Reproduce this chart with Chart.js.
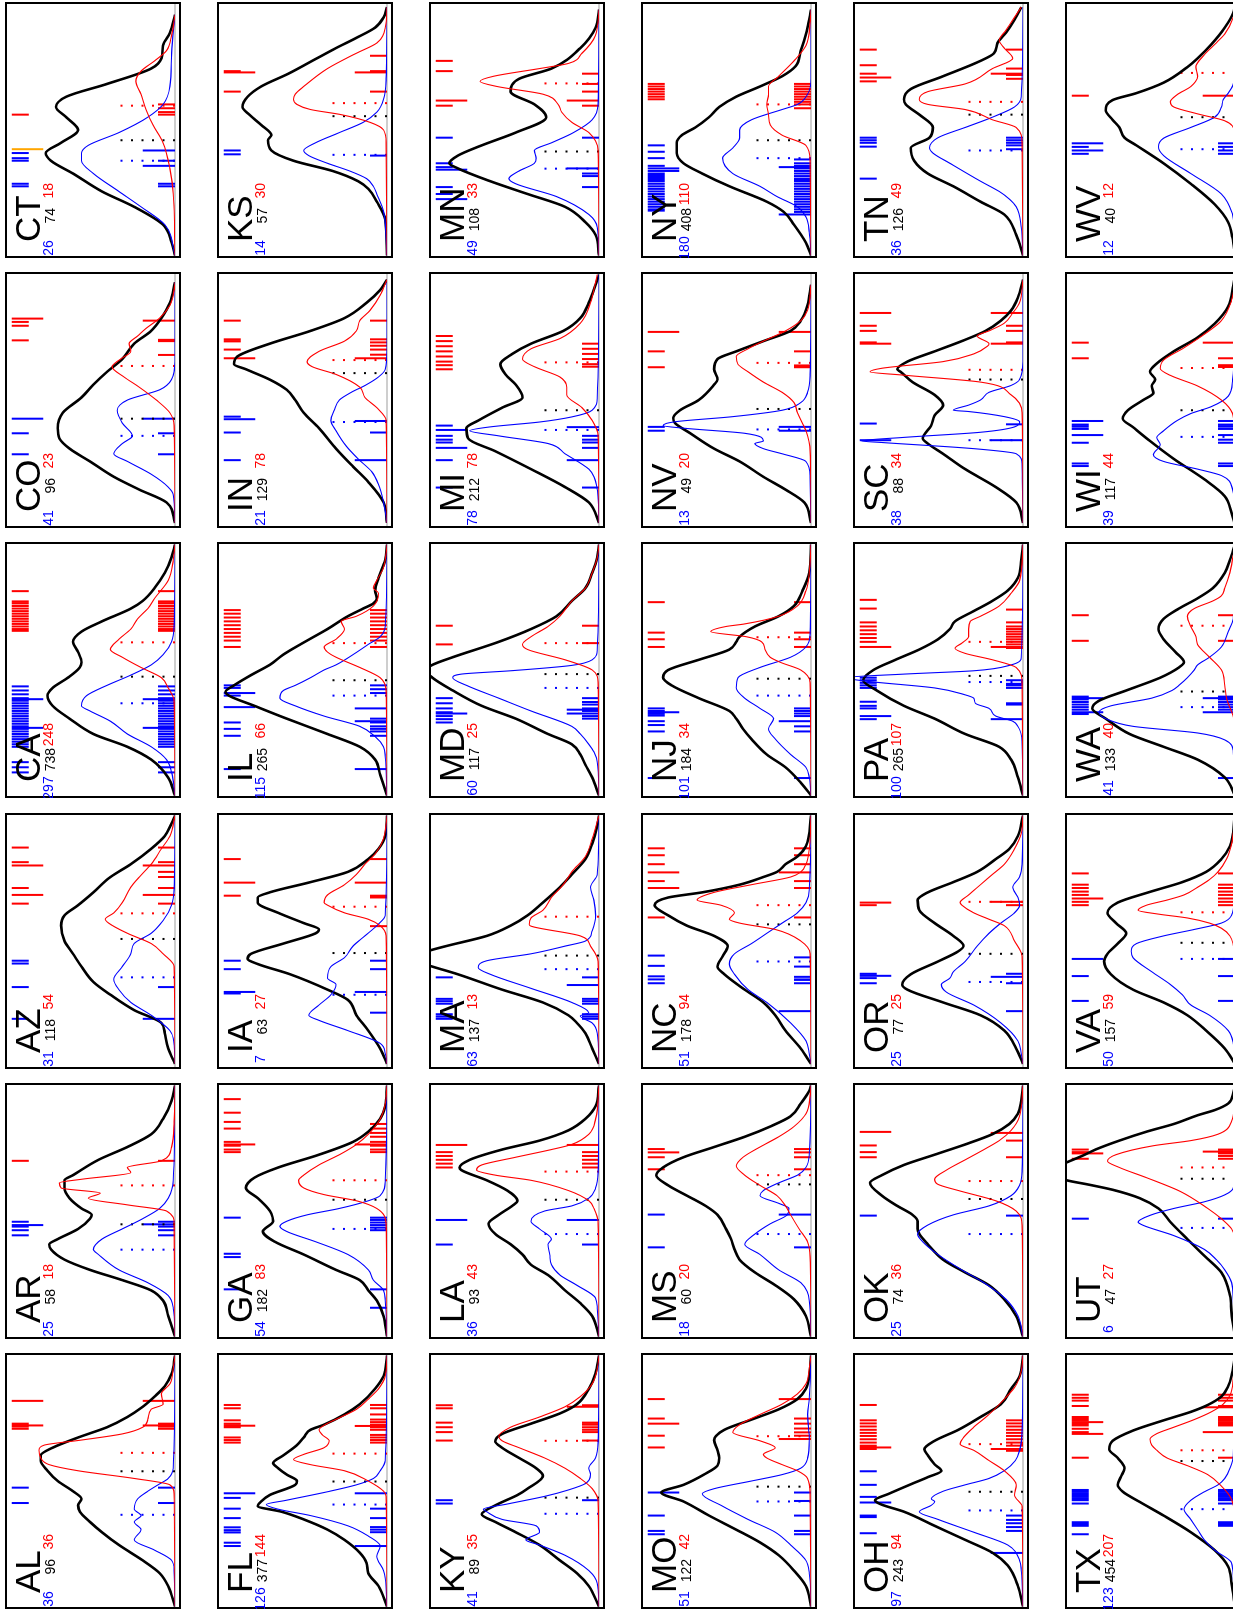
<!DOCTYPE html>
<html>
<head>
<meta charset="utf-8">
<script src="https://cdn.jsdelivr.net/npm/chart.js@4.4.1/dist/chart.umd.min.js"></script>
<style>
html, body { margin: 0; padding: 0; background: #fff; }
body { width: 1233px; height: 1609px; overflow: hidden; position: relative; }
.panel { position: absolute; width: 176px; height: 256px; }
.turn { position: absolute; left: 0; top: 0; width: 256px; height: 176px;
        transform-origin: 0 0; transform: translate(0, 256px) rotate(-90deg); }
.turn canvas { display: block; }
</style>
</head>
<body>
<script>
// states, alphabetical; panels are filled column by column (bottom to top)
const states = ['AL','AR','AZ','CA','CO','CT','FL','GA','IA','IL','IN','KS','KY','LA','MA','MD','MI','MN',
                'MO','MS','NC','NJ','NV','NY','OH','OK','OR','PA','SC','TN','TX','UT','VA','WA','WI','WV'];

const countBlue = [36,25,31,297,41,26,126,54,7,115,21,14,41,36,63,60,78,49,51,18,51,101,13,180,97,25,25,100,38,36,123,6,50,41,39,12];
const countAll  = [96,58,118,738,96,74,377,182,63,265,129,57,89,93,137,117,212,108,122,60,178,184,49,408,243,74,77,265,88,126,454,47,157,133,117,40];
const countRed  = [36,18,54,248,23,18,144,83,27,66,78,30,35,43,13,25,78,33,42,20,94,34,20,110,94,36,25,107,34,49,207,27,59,40,44,12];

// density curves, flat [x, y, x, y, ...]; x on a 0-100 value axis, y on a 0-100 density axis
const densityAll = [
  [1,0, 9,4, 14,9, 19,19, 25,33, 30,43, 34,50, 38,56, 40.5,57, 43,55, 46,60, 50,69, 54,75, 58,79, 60,79, 63,72, 67,57, 71,40, 75,28, 79,19, 83,12, 87,6, 92,2, 99,0],
  [1,0, 9,4, 15,7, 19,14, 23,31, 27,50, 31,65, 35,73, 37,74, 39,69, 43,57, 47,50, 48.5,49, 51,55, 55,62, 59,65, 62,65, 64,60, 70,45, 75,28, 80,14, 86,7, 93,2, 99,0],
  [2,0, 8,4, 14,6, 18,8, 23,24, 29,38, 34,48, 40,55, 45,60, 50,65, 56,67, 60,65, 64,57, 69,48, 75,38, 80,26, 86,14, 91,6, 96,2, 99,0],
  [1,0, 8,4, 15,14, 20,28, 25,48, 31,62, 36,72, 40,75, 43,72, 47,63, 51,56, 53,55, 57,57, 61,60, 65,55, 69,43, 74,26, 77,19, 82,12, 88,6, 94,2, 99,0],
  [2,0, 10,5, 15,21, 20,36, 26,50, 31,62, 35,68, 39,69, 45,66, 51,55, 56,48, 61,40, 66,31, 72,24, 77,14, 82,8, 88,3, 96,0],
  [1,0, 6,2, 13,7, 20,24, 26,43, 33,60, 38,73, 41,76, 45,67, 50,57, 55,64, 59,70, 63,64, 68,40, 74,14, 78,8, 83,7, 88,3, 95,0],
  [1,0, 9,5, 14,11, 18,12, 22,16, 27,25, 31,35, 35,49, 38,62, 40.2,76, 42,74, 44.5,69, 48.5,54, 50,53, 52.5,59, 55,64, 57,67, 60,61, 64,53, 67,49, 70,45, 72,37, 76,25, 80,16, 86,7, 91,2, 99,0],
  [1,0, 9,2, 15,6, 19,11, 23,16, 27,30, 33,49, 38,66, 42,73, 46,67, 49,68, 51,70, 55,76, 59,83, 63,78, 67,64, 72,40, 77,20, 81,11, 86,4, 91,1, 99,0],
  [2,0, 8,4, 15,11, 21,18, 27,23, 31,35, 37,57, 41,76, 43,82, 45,80, 49,61, 53,42, 54.5,40, 57,49, 61,64, 65,76, 67,76, 69,69, 73,45, 77,23, 82,11, 86,5, 91,1, 99,0],
  [1,0, 9,4, 15,7, 20,16, 25,35, 31,59, 36,78, 40,93, 41.5,95, 44,90, 48,80, 52,69, 56,61, 60,51, 66,35, 71,23, 74,14, 76,8, 78,6, 81,7, 86,5, 93,1, 99,0],
  [2,0, 10,2, 18,11, 24,20, 31,30, 39,40, 45,49, 50,54, 54,59, 58,69, 62,83, 64,90, 67,88, 72,69, 77,45, 82,25, 88,12, 93,4, 97,0],
  [1,0, 15,1, 22,6, 27,11, 30,17, 34,32, 38,55, 42,68, 46,70, 48,68, 52,74, 56,81, 59,85, 63,82, 67,74, 72,58, 77,44, 82,30, 86,18, 90,7, 94,2, 98,0],
  [1,0, 9,6, 14,13, 19,23, 25,35, 30,49, 34,61, 37,69, 40.5,61, 44.5,48, 47,42, 52,33, 55,37, 59,47, 63,57, 65.5,61, 68.4,57, 72.4,40, 76.4,23, 80,13, 86,6, 92,2, 99,0],
  [1,0, 9,4, 14,11, 19,20, 25,30, 29,40, 33,45, 37,52, 41,61, 45,65, 48.5,59, 52,51, 54,48, 58,54, 62,66, 66,81, 67,82, 70,76, 74,57, 77.5,35, 81.5,18, 86,8, 91,2, 99,0],
  [2,0, 8,4, 14,8, 18,13, 21,18, 26,33, 31,57, 37,83, 40,98, 43,112, 46,101, 48,90, 52,66, 56,52, 60,42, 65,33, 71,23, 76,16, 82,8, 88,4, 95,1, 99,0],
  [1,0, 8,4, 13,8, 17,11, 21,16, 25,30, 31,49, 36,69, 42,86, 47,98, 50,102, 52,98, 55,86, 61,59, 66,40, 71,25, 77,16, 82,8, 88,4, 94,1, 99,0],
  [2,0, 10,6, 16,20, 23,40, 30,61, 35,77, 39,78, 42,71, 47,57, 51,45, 56,49, 60,55, 64,58, 68,51, 72,40, 77,21, 82,11, 88,6, 95,2, 99,0],
  [1,0, 9,2, 14,8, 20,20, 25,42, 30,64, 35,83, 37,88, 40,83, 44,69, 49,49, 55,31, 60,38, 65,52, 70,47, 74,28, 82,11, 90,2, 97,0],
  [1,0, 9,3, 15,10, 21,19, 26,30, 31,44, 36.5,60, 42,75, 45.5,88, 48.5,75, 52.5,63, 56,55, 59,54, 62,55, 66,57, 70,51, 74,35, 78,19, 82,8, 86,3, 91,1, 99,0],
  [1,0, 9,3, 15.5,10, 21,21, 26,33, 31,42, 35,45, 39,47, 43,50, 48.5,55, 52,62, 56,73, 60,84, 64,91, 67,87, 71,75, 75,57, 79,39, 83,24, 87,12, 92,6, 97,1, 99,0],
  [2,0, 8,6, 15,15, 21,21, 26,28, 31,39, 37,51, 40,55, 44,52, 48,49, 52,57, 56,73, 60,84, 64,92, 67,84, 69,64, 72,42, 75,28, 77,20, 80,15, 83,8, 87,3, 99,0],
  [1,0, 6,6, 12,15, 17,26, 23,35, 27,40, 31,44, 34,48, 39,66, 44,82, 47,87, 50,84, 54,66, 58,48, 61,44, 63,42, 67,33, 71,19, 75,10, 81,5, 88,1, 99,0],
  [2,0, 10,4, 15,15, 20,28, 26,42, 31,57, 37,71, 41,80, 43,81, 46,77, 50,66, 56,57, 58,55, 62,57, 66,55, 69,44, 73,28, 77,12, 81,6, 87,2, 95,0],
  [1,0, 6,3, 13,10, 18,16, 22,26, 28,48, 33,64, 37,75, 41,79, 45,79, 48,76, 51,68, 55,60, 59,54, 63,44, 67,30, 71,17, 75,9, 81,6, 90,2, 97,0],
  [1,0, 9,3, 17,9, 22,18, 27,34, 32.5,52, 38,70, 41,84, 42.5,87, 45,79, 49,65, 51.5,56, 54,48, 56.5,52, 60,56, 62.4,58, 65.7,52, 70,38, 75,25, 80,13, 86,7, 91,2, 99,0],
  [1,0, 9,4, 15.5,11, 21,20, 26,34, 31,47, 37,56, 41,61, 43,62, 46,62, 48.5,65, 52,74, 56,83, 61,90, 64,83, 68,70, 72,52, 76,34, 80,18, 84,8, 88,3, 93,1, 99,0],
  [2,0, 8,4, 15,11, 21,25, 26,47, 31,68, 33,71, 37,66, 42,50, 46,38, 48,35, 52,41, 57,52, 62,61, 66,62, 69,56, 73,41, 77,27, 82,16, 86,8, 91,3, 99,0],
  [1,0, 8,3, 15,7, 20,14, 25,34, 31,52, 36,70, 42,86, 46,94, 50,88, 54,75, 58,61, 62,50, 66,43, 69,40, 73,29, 77,18, 81,9, 86,3, 93,1, 99,0],
  [2,0, 10,4, 16,16, 23,34, 29,47, 33,56, 35,59, 40,54, 44,52, 48,47, 52,52, 57,65, 61,72, 62,74, 65,68, 69,52, 73,36, 77,22, 81,13, 85,7, 90,3, 97,0],
  [1,0, 9,4, 17,11, 22,25, 28,41, 33,56, 38,64, 43,66, 47,55, 51,53, 56,61, 60,69, 62,70, 66,66, 71,47, 77,25, 80,17, 84,15, 88,10, 93,5, 98,1],
  [1,0, 10,2, 16.6,4, 23,12, 30,26, 36.5,42, 41.8,56, 45.8,66, 48.5,69, 51.8,67, 55,65, 59,69, 62.4,74, 65.7,72, 69.7,60, 73.7,42, 77,26, 79.7,16, 83,8, 87,4, 91,2, 99,0],
  [1,0, 10,2, 17,3, 26,8, 32.5,18, 39,28, 45.7,38, 51,45, 55,56, 58.3,72, 60.3,86, 62,99, 65.5,112, 69,99, 71.5,90, 74,82, 77.5,68, 81,52, 84,36, 87.4,22, 89.4,12, 92,4, 96,1, 99,0],
  [2,0, 8,6, 15,17, 21,28, 26,42, 31,60, 37,73, 42,77, 45,75, 49,69, 53,64, 57,70, 61,75, 65,69, 69,51, 73,31, 77,17, 82,8, 87,3, 99,0],
  [1,0, 8,6, 15,22, 20,42, 25,62, 31,76, 35,84, 38,80, 42,64, 47,44, 51,33, 53,30, 57,35, 62,42, 66,45, 70,42, 74,33, 78,22, 82,13, 88,6, 93,3, 99,0],
  [1,0, 6,2, 12.4,6, 19,18, 27,36, 34,50, 39.4,60, 42.7,66, 46,63, 50,54, 52.8,48, 55.5,49, 58,47, 61,50, 64.3,46, 69,36, 74.4,22, 79.8,12, 86.5,4, 94.6,1, 99,0],
  [1,0, 8,1.5, 14,4, 21,12, 29,26, 37,42, 44,58, 47,65, 51,68, 54,72, 57.7,76, 61.7,72, 64.4,58, 68.5,42, 74.6,28, 78,22, 83.4,14, 90,6, 95.7,1, 99,0]
];

const densityBlue = [
  [1,0, 15,0.5, 19,2, 23,12, 27,24, 31,20, 34,24, 36.5,20, 39,24, 43,22, 46,16, 48.5,10, 51,4, 55,1, 99,0],
  [1,0, 12,1, 17,4, 22,16, 27,33, 33,45, 35,48, 39,43, 43,31, 47,19, 51,9, 55,4, 62,1, 99,0],
  [2,0, 12,1, 15,3, 21,14, 26,26, 31,33, 35,36, 40,31, 45,26, 49,24, 53,14, 58,7, 64,2, 70,0.5, 99,0],
  [1,0, 10,2, 15,5, 20,14, 25,28, 30,38, 34,50, 36,55, 40,52, 44,40, 48,26, 52,14, 56,7, 61,2, 67,0.5, 99,0],
  [2,0, 13,1, 16,4, 21,14, 26,28, 29,36, 33,31, 36,25, 41,31, 46,34, 50,28, 54,9, 58,2, 65,0, 96,0],
  [1,0, 13,6, 20,20, 26,33, 33,48, 38,55, 41,55, 44,51, 49,33, 55,16, 60,7, 67,3, 80,2, 95,0],
  [1,0, 12,1, 15,2, 20.6,6, 24.6,4, 28.5,11, 32.5,23, 36.5,45, 39,64, 40.8,71, 42.5,59, 45.8,35, 48.5,18, 51,8, 54,4, 58,1, 99,0],
  [1,0, 15,1, 19,2, 23,8, 27,11, 33,23, 38,42, 42,59, 44,63, 46,59, 48.5,47, 51,28, 54,11, 56,4, 62,1, 99,0],
  [2,0, 6,1, 10,4, 15,23, 19,40, 21,46, 25,40, 29,33, 33,30, 35.5,35, 40,33, 43.5,25, 48,20, 52,13, 56,6, 60,1, 99,0],
  [1,0, 16,1, 20,2, 24,7, 28,16, 32,37, 36,54, 39,63, 42,61, 44,54, 47,45, 50,37, 52,30, 56,20, 60,11, 63,4, 67,1, 99,0],
  [2,0, 10,2, 17,5, 22,9, 27,17, 32,24, 38,30, 42,33, 46,31, 50,28, 53,21, 56,12, 59,5, 62,1, 70,0, 97,0],
  [1,0, 18,2, 25,6, 28,8, 31,12, 34,22, 37,35, 40,46, 42,49, 45,42, 49,28, 53,14, 57,6, 62,2, 70,0.5, 98,0],
  [1,0, 10,1, 15,6, 21,20, 25,35, 27,43, 30,35, 32.5,37, 35,57, 38,66, 39,68, 41,54, 44,32, 46.5,18, 49,8, 52.5,5, 55,6, 59,2, 65,0.5, 99,0],
  [1,0, 12,1, 16,2, 21,13, 25,23, 29,28, 33,29, 37,30, 39,28, 43,35, 46,40, 50,32, 52,16, 55,6, 59,2, 65,0.5, 99,0],
  [2,0, 14,1, 18,4, 20.7,11, 22,6, 26,16, 31.5,40, 37,64, 39.6,71, 42.3,66, 45,40, 48,20, 50,8, 54,4, 60,2, 66,3, 71,5, 76,1, 99,0],
  [1,0, 14,1, 18,3, 21,6, 25,11, 28,16, 34,40, 39,59, 44,78, 47,86, 48.4,81, 49.7,52, 51.8,16, 54,4, 58,1, 99,0],
  [2,0, 12,0.5, 20,3, 23,6, 29,20, 33,30, 36,59, 38,76, 39.5,64, 41.4,35, 43.4,16, 46,4, 51,1, 99,0],
  [1,0, 12,1, 17,6, 24,25, 29,49, 31,53, 34,47, 37,38, 39,37, 42,38, 45,28, 49,15, 54,4, 60,0.5, 97,0],
  [1,0, 14,1, 19,3, 25,12, 30,21, 35,37, 40.5,53, 45,64, 47,57, 50,35, 52.5,17, 55,6, 59,2, 66,1, 76,2, 82,1, 99,0],
  [1,0, 15,1, 22,6, 27,19, 33,30, 37,39, 41,33, 45,24, 48.5,14, 51,13, 53,19, 56,30, 58,28, 61,19, 64,8, 67,3, 72,1, 99,0],
  [2,0, 6,1, 11,3, 18,12, 26,26, 31,37, 37,45, 41,48, 45,45, 49,35, 53,26, 57,17, 61,8, 65,3, 70,1, 99,0],
  [1,0, 8,1, 12,3, 17,12, 23,21, 27,25, 31,22, 35,30, 39,39, 43,44, 47,43, 51,30, 55,12, 59,3, 64,0.5, 99,0],
  [2,0, 20,0.5, 26,3, 29,17, 31,28, 33,33, 34,28, 37,39, 39,75, 40,87, 41.5,80, 43.5,46, 46,17, 49,6, 53,2, 60,0.5, 95,0],
  [1,0, 10,1, 16,3, 20,8, 24,20, 28,30, 33,46, 39,52, 43,46, 47,42, 50,42, 54,35, 58,17, 60,8, 64,2, 70,0, 97,0],
  [1,0, 15,1, 19,2, 25,9, 30,29, 35,50, 38,61, 40.5,54, 42,52, 43,54, 46,47, 48.5,34, 51,20, 54,11, 58,4.5, 62,2, 70,0.5, 99,0],
  [1,0, 9,3, 15.5,10, 22,23, 27,36, 33,50, 38,59, 41,62, 44.5,56, 48.5,41, 52,20, 56,7, 60,2, 66,0.5, 99,0],
  [2,0, 6,1, 11,3, 18,13, 25,29, 30,45, 33,48, 35.5,43, 38,41, 42,34, 48,27, 53,20, 57,13, 61,5, 64,2, 67,3, 71,6, 75,2, 80,0.5, 99,0],
  [1,0, 22,0.5, 28,3, 30,6, 32,16, 35,20, 37,28, 39,29, 40.3,34, 43,52, 45.7,93, 47,104, 48.4,70, 49.7,29, 52,7, 55,1, 99,0],
  [2,0, 25,0.5, 29,4, 31,29, 33.4,83, 34,95, 35.4,70, 37.4,25, 39.5,5, 41.5,2, 43.5,11, 45.5,32, 46,41, 48,32, 50,25, 53,20, 55.7,7, 58,2, 65,0, 97,0],
  [1,0, 12,1, 20,4, 23,8, 26,14, 30,25, 37,43, 41,53, 43,55, 47,50, 51,34, 55,18, 59,5, 63,1, 98,0],
  [1,0, 12,1, 18,2, 23,12, 27,18, 31,22, 35,26, 39,30, 42.5,26, 45.8,18, 48.5,10, 51,6, 55,3, 60,1, 99,0],
  [1,0, 15,1, 22,2, 27,6, 31,11, 35,18, 40.4,36, 44.4,54, 45.7,57, 48.3,50, 51,36, 53.6,18, 56.3,6, 59,1, 65,0.3, 99,0],
  [2,0, 10,1, 15,4, 21,15, 25,26, 29,31, 33,38, 38,49, 43.5,60, 46,61, 49,58, 52,42, 54.5,24, 57,8, 60,2, 66,0.5, 99,0],
  [1,0, 18,1, 22.7,6, 25.4,22, 28,60, 31,76, 33.5,80, 36,73, 39,49, 42,37, 44,33, 47,28, 50,24, 52,22, 55,15, 59,8, 65,4, 70,1, 99,0],
  [1,0, 10,0.5, 15,1.4, 20.5,8, 23,22, 26,42, 28.6,48, 32.6,44, 35.3,46, 38,42, 42,34, 44.7,26, 47.4,14, 51.5,4, 58,1.4, 70,0.3, 99,0],
  [1,0, 12,0.5, 17,1.4, 25,8, 33,26, 40,42, 43.4,45, 46.8,42, 51,26, 55,12, 59,8, 61.7,7, 64.4,4, 68,1, 75,0.3, 99,0]
];

const densityRed = [
  [1,0, 45,0.5, 48.5,3, 51,24, 54,57, 56.4,74, 59,79, 62,80, 64,77, 66,55, 68.4,31, 71,19, 74,16, 78,14, 80,7, 84,8, 88,3, 94,1, 99,0],
  [1,0, 45,0.5, 50,5, 52.4,28, 55,51, 57,44, 59,67, 61,68, 62.4,55, 65,26, 67,28, 69.6,8, 75,2, 85,0.5, 99,0],
  [2,0, 40,0.5, 45,7, 49,14, 53,28, 57,39, 58.5,41, 61,36, 65,31, 71,26, 75,21, 80,14, 86,8, 91,3, 99,0],
  [1,0, 38,0.5, 43,4, 47,8, 51,20, 55,31, 58,38, 62,33, 66,26, 70,22, 74,16, 78,12, 85,4, 93,1, 99,0],
  [2,0, 40,0.5, 45,3, 50,11, 55,21, 59,30, 63,37, 66,32, 69,26, 72,27, 75,22, 78,17, 82,9, 87,3, 93,0.5, 96,0],
  [1,0, 25,1, 35,3, 45,7, 52,13, 58,17, 64,20, 69,23, 73,20, 77,12, 81,5, 87,2, 95,0],
  [1,0, 44,0.5, 46,2, 50,11, 54,25, 56.4,45, 58.4,55, 60.4,49, 63,37, 65.7,34, 68,38, 70,40, 72.5,35, 75,27, 78,18, 82,11, 86,5, 91,1, 99,0],
  [1,0, 45,0.5, 51,6, 54,18, 56.4,37, 59,49, 62,52, 64,49, 68,40, 72,28, 76,18, 80,11, 86,4, 92,1, 99,0],
  [2,0, 52,0.5, 56,4, 58.5,11, 61,25, 64,35, 65,37, 68,35, 72,25, 76,18, 80,13, 84,7, 90,2, 99,0],
  [1,0, 42,0.5, 47,4, 51,16, 55,30, 57,35, 59,37, 62,30, 66,25, 69,27, 71,18, 75,8, 80,5, 82,8, 85,6, 90,2, 99,0],
  [2,0, 42,0.5, 47,6, 51,13, 55,16, 60,30, 63,44, 65,47, 69,40, 73,25, 77,18, 81,16, 85,10, 91,4, 97,0],
  [1,0, 45,0.5, 50,2, 53,10, 56,27, 58,45, 60,53, 62,55, 64,54, 67,49, 74,35, 80,18, 84,6, 90,1, 98,0],
  [1,0, 42,0.5, 47,4, 51,11, 55,20, 59,32, 63,47, 65.7,57, 67.5,59, 71,52, 75,35, 79,20, 83,11, 88,4, 94,1, 99,0],
  [1,0, 45,0.5, 51,3, 54,6, 58,18, 62,40, 64,61, 66,72, 68,69, 71,49, 74,28, 76,16, 80,6, 86,2, 99,0],
  [2,0, 42,0.5, 48,5, 52,11, 55.8,40, 56.5,41, 59,40, 62,33, 67,28, 72,21, 77,16, 83,8, 90,4, 99,0],
  [1,0, 45,0.5, 50,4, 54,20, 58,42, 60,45, 63,40, 67,30, 71,23, 77,16, 82,8, 88,4, 94,1, 99,0],
  [2,0, 36,0.5, 42,4, 47,10, 52,19, 55,19, 59,23, 63,38, 66,45, 70,40, 74,23, 80,11, 88,5, 96,2, 99,1],
  [1,0, 42,0.5, 49,6, 53,16, 57,22, 60,24, 64,33, 67,60, 69,70, 71,62, 74,35, 76,18, 80,10, 87,2, 97,0],
  [1,0, 45,0.5, 51,2, 54,8, 56.4,17, 59,26, 60.4,28, 63,21, 65.7,30, 69,46, 72,42, 76,30, 80,17, 84,8, 88,3, 94,1, 99,0],
  [1,0, 32,0.5, 38,2, 43,7, 48.5,12, 52,15, 56,20, 60,30, 64,39, 67.6,44, 71,40, 75,30, 79,19, 83,10, 88,3, 95,0.5, 99,0],
  [2,0, 45,0.5, 50,6, 54.5,21, 57,42, 58.5,48, 61,45, 64,53, 66,67, 69,57, 72,35, 75,12, 77,6, 80,3, 86,1, 99,0],
  [1,0, 45,0.5, 50,6, 53,18, 55,24, 58,27, 61,29, 63,38, 65,59, 67,50, 68,39, 71,19, 75,8, 81,3, 88,1, 99,0],
  [2,0, 30,0.5, 38,3, 45,8, 49,10, 53,17, 57,28, 61,37, 64,43, 67,44, 70,37, 73,28, 77,15, 81,6, 85,2, 95,0],
  [1,0, 38,0.5, 44,3, 48,17, 52,24, 56,25, 60,26, 64,25, 67,25, 71,19, 77,10, 83,3, 92,0.5, 97,0],
  [1,0, 40,0.5, 44.5,5, 48.5,4, 54,11, 58,20, 62,29, 64.4,37, 67,35, 71,29, 76,20, 82,11, 87,4.5, 93,1, 99,0],
  [1,0, 44,0.5, 50,4, 54,16, 58,38, 60.4,50, 62.4,52, 66,45, 70,34, 74,23, 77.5,14, 81.5,7, 87,2, 99,0],
  [2,0, 44,0.5, 50,5, 56,11, 58.5,20, 61,29, 64,36, 65,37, 68,32, 72,25, 76,18, 80,11, 86,5, 92,1, 99,0],
  [1,0, 45,0.5, 51,4, 54,18, 56.5,34, 58.5,40, 60.5,36, 63,32, 66,32, 69,31, 71,25, 75,14, 80,7, 85,2, 99,0],
  [2,0, 45,0.5, 52,7, 57,25, 59.7,70, 61,90, 62.4,83, 65,47, 68,29, 71,21, 72,20, 75,27, 77,20, 80,11, 84,6, 88,2, 97,0],
  [1,0, 45,0.5, 51,4, 54,18, 58,34, 60,56, 62,61, 65,56, 68,34, 74,18, 78,6, 82,11, 85,14, 89,10, 93,6, 98,1],
  [1,0, 38,0.5, 44,3, 48,8, 52.5,16, 56,28, 59,40, 62,46, 64,49, 66.4,50, 68.5,46, 71,36, 74,24, 77,14, 80,7, 83.5,3, 90,1, 99,0],
  [1,0, 40,0.5, 43,2, 47,8, 51,16, 57.6,32, 63,52, 67,68, 69.5,75, 72,70, 75.5,48, 77.5,26, 80,10, 85,2, 92,0.3, 99,0],
  [2,0, 45,0.5, 52,3, 55,8, 57,15, 59,28, 60.5,45, 62,57, 64,52, 66,40, 68,30, 71,22, 74,15, 77,10, 82,5, 88,2, 99,0],
  [1,0, 30,0.5, 39,5, 44,6, 50,8, 55,15, 60,22, 63,23, 67,26, 71,28, 74,24, 77,13, 79,8, 82,6, 88,3, 99,0],
  [1,0, 40,0.5, 44.7,1.4, 50,8, 55.5,22, 59.6,38, 62.3,44, 65.6,42, 70.4,30, 75.7,18, 81,8, 89,2, 95,0.3, 99,0],
  [1,0, 47,0.3, 49.5,0.5, 53.6,6, 56.3,22, 59,36, 61,38, 63.8,34, 67,26, 71,22, 74.6,23, 79.4,18, 83.4,12, 87.5,6, 94,1, 99,0]
];

// medians (dotted lines)
const medianBlue = [36.8,34.9,35.8,37,36,38,40.8,43,29,40,41.4,40.3,37.2,41,39,43,38.3,34.9,42,41,42,40,38.5,39,38.5,41,34,45.3,34.3,42,39,43.4,43,35.5,35.6,42.5];
const medianAll  = [53.8,44.8,50.8,47.4,42.7,46,49.8,54.4,45.3,46,60.5,55.4,43.5,54.4,44.3,48.4,46,41.6,47.8,60.4,56.5,46.6,46.5,46,45.8,54.7,45,47.7,58,56,57.8,62.6,49.3,41.6,46,55];
const medianRed  = [61,60,60.8,60.8,63.3,59.5,60.7,62,63.4,60.5,65.6,60.5,65.7,65.4,59.5,60.5,64.7,68.2,67.5,64,64,62.8,64.5,60,64.4,61.7,65.3,61,61.8,61,62,67,61.2,67.3,62.5,72.3];

// rug marks (value axis positions)
const rugBlueTop = [
  [47.4,41.4],[45.8,43.9,42.5,40.5],[42.3,41.2,32,19.6],
  [43.6,42,40.5,39,38,37,36,35,34,33,32,31,30,29,28,27,26,25,24,23,22,21,20,14,12,10],
  [37,28.8],[41,39,38,29,28],[43.4,39.2,35.5,31.9,30.8,29.9,25.9,24.6],[47.4,33.3,32,19.4],[42.3,39,29.5],
  [44,43,41,40,29.5,27,24.3,11.3],[43.5,37.3,26.5],[42,40.5],[42.5,41.2],[36.9],[35.8,27.4,26.5,25.5,21.4,20.5,19.6],
  [39,37,35,33.5,32,30.8,29.5],[40,36,34.5,33.4,26.5,15.8],[47,37,35.5,27.7,25],[36.5,30.5,29.2],[48.6,35.8],
  [44.3,40.3,36.2,35,33.5],[35,34,33,32.2,30,28.5,26,7.8],[39.5,38],
  [44,41.5,39,36,35,34,33,32.5,32,31.5,31,30.5,30,29,28,27,26,25,24,23,22,21,20,19,18.5],
  [53.8,48.5,43.8,36.5,35.9,29.6],[48.2],[37.2,35.5,33.5],[47,46,45,44,43,37.6,36,35,30.8],[40.8],[47,46,45,43.5,31],
  [46.5,45.8,45,44.5,43.8,43,42.5,41.2,33.9,33.2,32.5,29.2],[47],[36.3,26.6],[39.6,38.5,37.5,36.5,35.5,34.5,33.5,32.8],
  [40.4,39.6,38.7,33.3,25.2,24.2],[43.4,40.7]
];
const rugBlueTopLong = [
  [],[44.5],[],[38.6,27.4],[42.7],[],[45.2],[],[30.1],[41,35.5],[42.5],[],[],[46.5],[],[33],[38.3,31.3],[34.5,23],
  [45.5],[],[],[33.5],[],[35,34],[41.6],[],[36.4],[32],[34.3],[],[],[],[43],[39,33.5],[41.8,36.3],[44.8,42]
];
const rugRedTop = [
  [72.4,71.3,70.4],[69.6],[86.5,80.8,70.7,64.6],[80.8,76.8,76,75,74,73,72,71,70,69,68,67,66,65.3],[80.5,79,73.3],[56],
  [79.7,78.4,73.7,72.4,71,67,66,65],[93.7,88.4,84.8,82.2,77,75.5,74,73],[82,67.7],[73.4,72,70.5,69,67.5,66,64.5,63,61.5,59],
  [81,73.7,72.9,69.7],[73,65],[79.6,78.4,72.8,71,69.1,65.8],[73,71.5,70,68.5,67],[],[67.3,60],[75,73,71,69,67,65,63.6,62],
  [77,73,59.5],[82,74.4,67.7,63.1],[74.2,71,66.3],[86.2,83.5,80,73.4,59.2],[76.5,64.6,62,59],[69,62.8],[68,67,66,65,64,63,62],
  [79.7,73.7,72.5,71.3,70,68.8,67.6,66.3,65,63.8,62.5],[75.6,73,71],[64],[77.4,74,68.6,67,65.5,64,62.5,61],[79,77,72.5],
  [81.4,75.3,72,69],[83.7,82.5,81.4,79.3,75,74.4,73.8,73,72.4,71.7,70.4,69.1,59.1],[74,73,70.4],
  [76.4,72,70.7,69.3,68,65.3,64],[71.4,61.4],[72.4,66.3],[63.4]
];
const rugRedTopLong = [
  [81.3,71.7],[],[79.5,68],[],[81.8],[],[71.6],[76],[72.8],[],[66.3],[72.5],[],[75.8],[],[],[],[61.5],
  [72.4],[72.9],[76.8,70.7],[],[76.6],[],[63.1],[80.9],[65],[59],[84,72],[70.5],[68.4,73],[72.5],[66.6],[],[],[]
];
const rugBlueBottom = [
  [47.4,41.4],[45.8,43.9,42.5,40.5],[32],
  [43.6,42,40.5,39,38,37,36,35,34,33,32,31,30,29,28,27,26,25,24,23,22,21,20,14,12,10],
  [37,28.8],[38,29,28],[39.2,35.5,32,31,30],[47.4,46.5,45.5,44.5,43.5,42.5,19.4,12.2],[42.3,39,22],
  [44,42.5,41,31,29.5,28,27,26,24.3],[37.3],[40],[42.5],[36.9],[35.8,27.4,26.5,25.5,21.4,20.5,19.6],
  [39,37.5,36.5,35,34,33,32,31],[36,34.5,33.4,31.3,15.8],[47,33,32,27.7],[45.5,42.2,36.5,30.5,29.2],[35.8],
  [43.6,40,36,35,34.8,33.5],[35,34,33,32,28,26,7.8],[],
  [38.5,37,36,35,34,33,32,31,30.5,30,29,28,27,26,25,24,23,22,21,20,19,18],
  [36.5,34.8,33.5,32,30.5],[48.2],[37.2,33.5,22.6],[46,44.6,44,43,37,36.5],[40.5],[47,46,45,44,42.5],
  [46.5,45.8,45,44.5,43.8,43,42.5,41.2,33.9,33.2,32.5],[47],[43,36.3,26.6],[39.6,38.5,37.5,36.5,35.5,34.5,33.5,7.8],
  [41.8,40.4,39.6,38.7,36.3,34.5,33.3,25.2,24.2],[44.8,43.4,42,40.7]
];
const rugBlueBottomLong = [
  [],[44.8],[19.6],[38.6,27.4],[42.7],[42,36],[45.2,24.6],[],[30.1],[35,30,11.3],[41.8,26.5],[],[],[46.5],[32.8],[34.5,33],
  [39.4,26.5],[35],[],[48.6],[22.6],[30],[39.5,38],[35.5,17],[21.9],[],[36],[30.8],[34.3],[],[],[],[],[39,33.5],[],[]
];
const rugRedBottom = [
  [72.4,71.3,70.4],[69.6],[86.5,80.8,77,75,70.7,64.6],[80.8,76.8,76,75,74,73,72,71,70,69,68,67,66,65.3],[73.5,73,67.6],
  [60,58.5,57,56],[79.7,78.4,76,74,73,72,71,70,68,67,66,65],[84,82.2,80.5,79,77,75.5,74,73],[82,67.7,67,55.8],
  [73.4,72,70.5,69,67.5,66,64.5,63,61.5,59],[81,73.7,72.5,71.2,69.7,67.7],[79,73,65],[79.6,72.8,72,71,70,69.1,65.8],
  [73,71.5,70,68.5,67],[],[67.3,60.5],[72,70,68,66,64,63],[72,68,65,59.5],[74.4,72.4,70.5,69,67.7],[74.2,72.9,71,66.3],
  [86.2,83.5,80,73.4,70.7,59.2],[76.5,64.6,62,59],[69,63.5,62.8],[68,67,66,65,64,63,62,61,60,58.5],
  [73.7,72.5,71.3,70,68.8,67.6,66.3,65,63.8,61.8],[77.5,71],[64],[73.6,68.6,67,66,65,64,63,62,61,60,58.6],[79,77,72.5],
  [81.4,74,71.5,70],[83.7,82.5,81.4,79.3,75,74.4,73.8,73,72.4,71.7,69.1,59.1],[74,72.5,71.5,70.4],
  [76.4,72,70.7,69.3,68,66.6,65.3,64],[71.4,61.4],[66.3,63.6,62.9],[]
];
const rugRedBottomLong = [
  [81.3,71.7],[],[79.5,68],[],[81],[],[71.5],[76],[72.8],[],[66.3],[72.5],[79],[75.8],[],[],[],[61.5],
  [82,66.4],[],[76.8],[],[76.6],[],[62.5],[80.5],[65.3],[59],[84,72],[72],[78.8,69.1],[73.2],[],[],[72.4],[63.4]
];
// single highlighted observation (orange mark), CT only
const highlightTop = [null,null,null,null,null,42.5,null,null,null,null,null,null,null,null,null,null,null,null,
                      null,null,null,null,null,null,null,null,null,null,null,null,null,null,null,null,null,null];

const BLUE = '#0000ff', RED = '#ff0000', BLACK = '#000000', ORANGE = '#ffa500';
const colLeft = [5, 217, 429, 641, 853, 1065];
const rowTop = [2, 272, 542, 813, 1083, 1353];

function toPoints(flat) {
  const pts = [];
  for (let k = 0; k < flat.length; k += 2) pts.push({ x: flat[k], y: flat[k + 1] });
  return pts;
}

function rugPoints(shortPos, longPos, shortSpan, longSpan) {
  const pts = [];
  shortPos.forEach(p => pts.push({ x: p, y: shortSpan[0] }, { x: p, y: shortSpan[1] }, { x: p, y: null }));
  longPos.forEach(p => pts.push({ x: p, y: longSpan[0] }, { x: p, y: longSpan[1] }, { x: p, y: null }));
  return pts;
}

function curve(data, color, width, order) {
  return { data: toPoints(data), borderColor: color, borderWidth: width, pointRadius: 0,
           cubicInterpolationMode: 'monotone', order: order };
}

function segmentSet(data, color, width, order, dash) {
  return { data: data, borderColor: color, borderWidth: width, pointRadius: 0, borderCapStyle: 'butt',
           borderDash: dash || [], spanGaps: false, order: order };
}

// frame, zero line and labels of one panel
const panelDecor = {
  id: 'panelDecor',
  beforeDatasetsDraw(chart) {
    const ctx = chart.ctx, y0 = chart.scales.y.getPixelForValue(0);
    ctx.save();
    ctx.strokeStyle = '#bebebe';
    ctx.lineWidth = 1.5;
    ctx.beginPath(); ctx.moveTo(0, y0); ctx.lineTo(chart.width, y0); ctx.stroke();
    ctx.restore();
  },
  afterDraw(chart, args, opts) {
    const ctx = chart.ctx;
    ctx.save();
    ctx.strokeStyle = BLACK;
    ctx.lineWidth = 2;
    ctx.strokeRect(1, 1, chart.width - 2, chart.height - 2);
    ctx.textBaseline = 'alphabetic';
    ctx.fillStyle = BLACK;
    ctx.textAlign = 'left';
    ctx.font = '35px "Liberation Sans", Arial, sans-serif';
    ctx.fillText(opts.state, 16, 35);
    ctx.font = '14px "Liberation Sans", Arial, sans-serif';
    ctx.fillStyle = BLUE; ctx.textAlign = 'center';
    ctx.fillText(String(opts.nBlue), 10, 48);
    ctx.fillStyle = BLACK; ctx.textAlign = 'right';
    ctx.fillText(String(opts.nAll), 50, 50);
    ctx.fillStyle = RED; ctx.textAlign = 'right';
    ctx.fillText(String(opts.nRed), 75, 48);
    ctx.restore();
  }
};

function drawPanel(i) {
  const col = Math.floor(i / 6), row = 5 - (i % 6);
  const panel = document.createElement('div');
  panel.className = 'panel';
  panel.style.left = colLeft[col] + 'px';
  panel.style.top = rowTop[row] + 'px';
  const turn = document.createElement('div');
  turn.className = 'turn';
  const canvas = document.createElement('canvas');
  canvas.width = 256; canvas.height = 176;
  canvas.style.width = '256px'; canvas.style.height = '176px';
  turn.appendChild(canvas);
  panel.appendChild(turn);
  document.body.appendChild(panel);

  const TOP = [86, 96], TOP_LONG = [77.5, 96], BOT = [0, 10], BOT_LONG = [0, 19];
  const datasets = [
    curve(densityRed[i], RED, 1.1, 1),
    curve(densityBlue[i], BLUE, 1.1, 2),
    curve(densityAll[i], BLACK, 2.6, 3),
    segmentSet([{ x: medianBlue[i], y: 0 }, { x: medianBlue[i], y: 37 }], BLUE, 2, 4, [2, 8.5]),
    segmentSet([{ x: medianAll[i], y: 0 }, { x: medianAll[i], y: 37 }], BLACK, 2, 4, [2, 8.5]),
    segmentSet([{ x: medianRed[i], y: 0 }, { x: medianRed[i], y: 37 }], RED, 2, 4, [2, 8.5]),
    segmentSet(rugPoints(rugBlueTop[i], rugBlueTopLong[i], TOP, TOP_LONG), BLUE, 2, 5),
    segmentSet(rugPoints(rugRedTop[i], rugRedTopLong[i], TOP, TOP_LONG), RED, 2, 5),
    segmentSet(rugPoints(rugBlueBottom[i], rugBlueBottomLong[i], BOT, BOT_LONG), BLUE, 2, 5),
    segmentSet(rugPoints(rugRedBottom[i], rugRedBottomLong[i], BOT, BOT_LONG), RED, 2, 5)
  ];
  if (highlightTop[i] !== null) {
    datasets.push(segmentSet(rugPoints([], [highlightTop[i]], TOP, TOP_LONG), ORANGE, 2, 0));
  }

  new Chart(canvas.getContext('2d'), {
    type: 'line',
    data: { datasets: datasets },
    options: {
      responsive: false,
      animation: false,
      events: [],
      layout: { padding: { left: 0, right: 0, top: 0, bottom: 6 } },
      scales: {
        x: { type: 'linear', min: 0, max: 100, display: false },
        y: { type: 'linear', min: 0, max: 100, display: false }
      },
      plugins: {
        legend: { display: false },
        tooltip: { enabled: false },
        panelDecor: { state: states[i], nBlue: countBlue[i], nAll: countAll[i], nRed: countRed[i] }
      }
    },
    plugins: [panelDecor]
  });
}

states.forEach((s, i) => drawPanel(i));
</script>
</body>
</html>
